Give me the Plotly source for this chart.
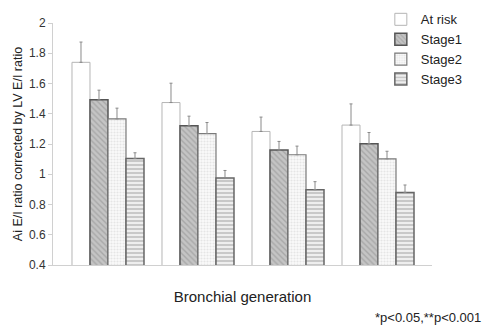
import plotly.graph_objects as go

categories = [0, 1, 2, 3]
series_names = ["At risk", "Stage1", "Stage2", "Stage3"]
at_risk = [1.74, 1.474, 1.283, 1.325]
at_risk_err = [0.134, 0.128, 0.095, 0.14]
stage1 = [1.492, 1.320, 1.160, 1.201]
stage1_err = [0.064, 0.064, 0.057, 0.075]
stage2 = [1.366, 1.269, 1.129, 1.102]
stage2_err = [0.071, 0.073, 0.057, 0.05]
stage3 = [1.104, 0.975, 0.898, 0.880]
stage3_err = [0.038, 0.05, 0.053, 0.049]
y_ticks = [0.4, 0.6, 0.8, 1, 1.2, 1.4, 1.6, 1.8, 2]
y_ticklabels = ["0.4", "0.6", "0.8", "1", "1.2", "1.4", "1.6", "1.8", "2"]

styles = [
    dict(marker=dict(color="white", line=dict(color="#b5b5b5", width=1))),
    dict(marker=dict(color="#b9b9b9", line=dict(color="#555555", width=1.5),
                     pattern=dict(shape="\\", fgcolor="#8c8c8c", bgcolor="#c4c4c4", size=4, solidity=0.35))),
    dict(marker=dict(color="white", line=dict(color="#7a7a7a", width=1.2),
                     pattern=dict(shape=".", fgcolor="#d0d0d0", bgcolor="#fafafa", size=3, solidity=0.4))),
    dict(marker=dict(color="#d8d8d8", line=dict(color="#666666", width=1.5),
                     pattern=dict(shape="-", fgcolor="#9a9a9a", bgcolor="#eeeeee", size=4, solidity=0.45))),
]

values = [at_risk, stage1, stage2, stage3]
errors = [at_risk_err, stage1_err, stage2_err, stage3_err]

fig = go.Figure()
for name, vals, errs, st in zip(series_names, values, errors, styles):
    fig.add_trace(go.Bar(
        x=categories, y=vals, name=name,
        marker=st["marker"],
        error_y=dict(type="data", symmetric=False, array=errs, arrayminus=[0] * len(errs),
                     color="#8a8a8a", thickness=1, width=1.5),
    ))

fig.update_layout(
    width=484, height=325,
    margin=dict(l=53, r=52, t=23, b=60, autoexpand=False),
    plot_bgcolor="white", paper_bgcolor="white",
    barmode="group", bargap=0.2, bargroupgap=0,
    font=dict(family="Liberation Sans, Arial, sans-serif", color="#333333"),
    legend=dict(x=0.865, y=1.077, xanchor="left", yanchor="top",
                font=dict(size=13, color="#222222"), itemwidth=30,
                tracegroupgap=0, bgcolor="rgba(0,0,0,0)"),
    xaxis=dict(range=[-0.611, 3.6], showticklabels=False, ticks="", automargin=False,
               showline=True, linecolor="#d0d0d0", linewidth=1, showgrid=False, zeroline=False,
               title=dict(text="Bronchial generation", font=dict(size=15, color="#222222"), standoff=26)),
    yaxis=dict(range=[0.4, 2], tickvals=y_ticks, ticktext=y_ticklabels, automargin=False,
               showline=True, linecolor="#d0d0d0", linewidth=1, ticks="outside", ticklen=4,
               tickcolor="#d0d0d0", showgrid=False, zeroline=False,
               tickfont=dict(size=12, color="#333333"),
               title=dict(text="Ai E/I ratio corrected by LV E/I ratio", font=dict(size=12.5, color="#222222"), standoff=3)),
    annotations=[dict(text="*p<0.05,**p<0.001", xref="paper", yref="paper", x=1.135, y=-0.219,
                      xanchor="right", yanchor="middle", showarrow=False,
                      font=dict(size=13, color="#222222"))],
)

fig.write_html("out.html", config={"displayModeBar": False},
               post_script="document.body.style.margin='0px';document.body.style.overflow='hidden';")
